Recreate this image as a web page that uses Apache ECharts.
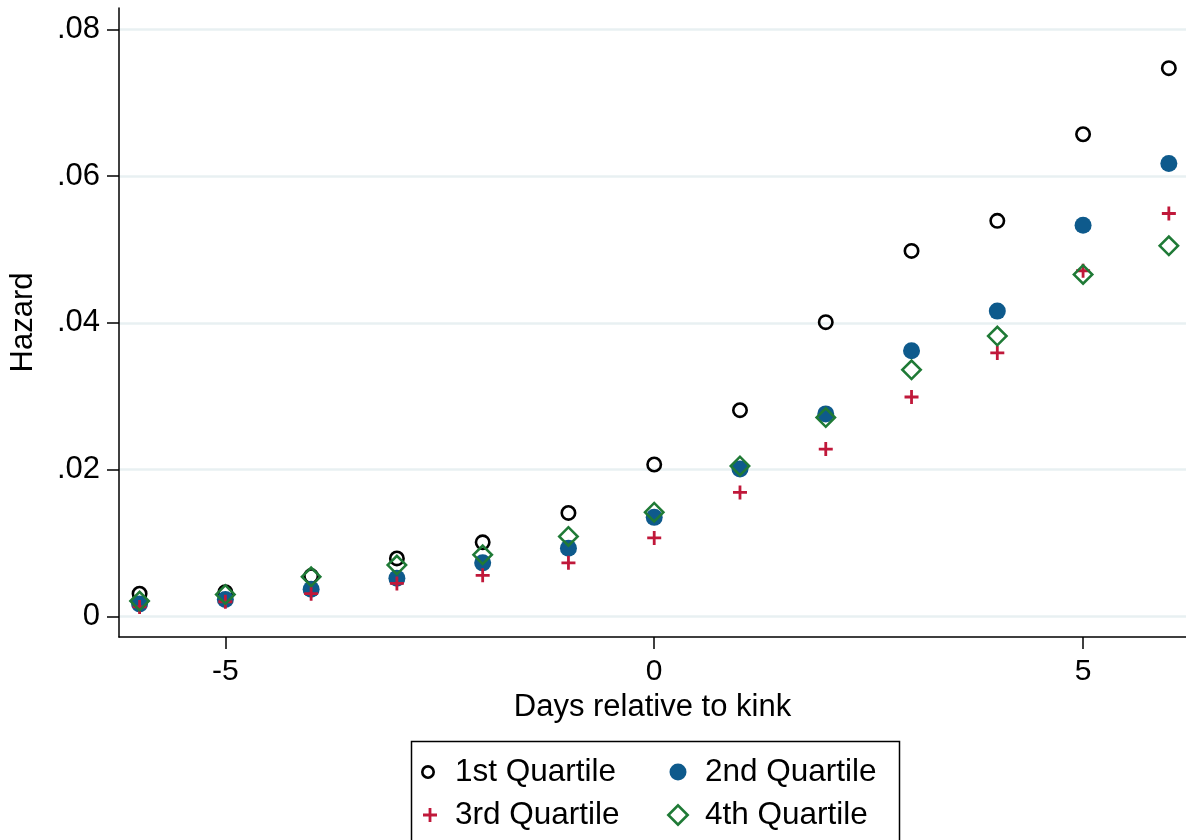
<!DOCTYPE html>
<html><head><meta charset="utf-8">
<script src="https://cdn.jsdelivr.net/npm/echarts@6/dist/echarts.min.js"></script>
<style>html,body{margin:0;padding:0;background:#fff}#c{width:1186px;height:840px}</style>
</head><body><div id="c"></div>
<script>
const days = [-6,-5,-4,-3,-2,-1,0,1,2,3,4,5,6];
const q1 = [0.0031,0.0033,0.0055,0.0079,0.0101,0.0141,0.0207,0.0281,0.0401,0.0498,0.0539,0.0657,0.0747];
const q2 = [0.0017,0.0023,0.0037,0.0052,0.0073,0.0093,0.0135,0.0201,0.0276,0.0362,0.0416,0.0533,0.0617];
const q3 = [0.0013,0.0020,0.0031,0.0045,0.0056,0.0073,0.0107,0.0169,0.0228,0.0299,0.0359,0.0471,0.0549];
const q4 = [0.0021,0.0030,0.0054,0.0070,0.0084,0.0109,0.0142,0.0205,0.0271,0.0336,0.0382,0.0466,0.0505];
const seriesNames = ['1st Quartile','2nd Quartile','3rd Quartile','4th Quartile'];
const xTicks = [-5,0,5];
const yTicks = [0,0.02,0.04,0.06,0.08];
const yTickLabels = ['0','.02','.04','.06','.08'];

const FONT = 'Liberation Sans, Arial, Helvetica, sans-serif';
const pair = arr => days.map((d,i)=>[d,arr[i]]);
const PLUS = 'path://M4,0h2v4h4v2h-4v4h-2v-4h-4v-2h4z';
const RING = 'path://M8,0A8,8 0 1,1 8,16A8,8 0 1,1 8,0Z M8,2.6A5.4,5.4 0 1,0 8,13.4A5.4,5.4 0 1,0 8,2.6Z';
const DIAM = 'path://M11,0L22,11L11,22L0,11Z M11,3.6L3.6,11L11,18.4L18.4,11Z';
const RING_L = 'path://M8,0A8,8 0 1,1 8,16A8,8 0 1,1 8,0Z M8,3.0A5,5 0 1,0 8,13A5,5 0 1,0 8,3.0Z';
const C_BLUE = '#0e5a8c', C_RED = '#c0183a', C_GREEN = '#1f7a36';

const legendTextStyle = pad => ({fontFamily:FONT, fontSize:31.5, color:'#000', lineHeight:30, padding:[0,0,0,pad]});
const oneLegend = (name, icon, color, size, left, top, pad) => ({
  data:[{name, icon, itemStyle:{color, opacity:1}}],
  orient:'vertical', left, top, itemWidth:size, itemHeight:size, padding:0,
  textStyle:legendTextStyle(pad)
});

const chart = echarts.init(document.getElementById('c'), null, {renderer:'canvas'});
chart.setOption({
  animation:false,
  backgroundColor:'#fff',
  grid:{left:118, right:0, top:8, bottom:203, containLabel:false},
  xAxis:{
    type:'value', min:-6.24, max:6.2,
    name:'Days relative to kink', nameLocation:'middle', nameGap:52,
    nameTextStyle:{fontFamily:FONT, fontSize:31, color:'#000'},
    axisLine:{show:true, onZero:false, lineStyle:{color:'#000', width:1.5}},
    axisTick:{show:true, inside:false, length:12, customValues:xTicks, lineStyle:{color:'#000', width:1.5}},
    axisLabel:{customValues:xTicks, margin:20, fontFamily:FONT, fontSize:30, color:'#000',
      formatter:v=>String(v)},
    splitLine:{show:false}
  },
  yAxis:{
    type:'value', min:-0.0028, max:0.0829,
    name:'Hazard', nameLocation:'middle', nameGap:80, nameRotate:90,
    nameTextStyle:{fontFamily:FONT, fontSize:31, color:'#000'},
    axisLine:{show:true, onZero:false, lineStyle:{color:'#000', width:1.5}},
    axisTick:{show:true, inside:false, length:12, customValues:yTicks, lineStyle:{color:'#000', width:1.5}},
    axisLabel:{customValues:yTicks, margin:19, fontFamily:FONT, fontSize:31, color:'#000',
      formatter:v=>{let b=0;for(let i=0;i<yTicks.length;i++){if(Math.abs(yTicks[i]-v)<Math.abs(yTicks[b]-v))b=i;}return yTickLabels[b];}},
    splitLine:{show:true, lineStyle:{color:'#e8f0f2', width:2.5}}
  },
  legend:[
    oneLegend(seriesNames[0], RING_L, '#000', 14, 421, 756, 15),
    oneLegend(seriesNames[2], PLUS, C_RED, 14, 423, 799, 13),
    oneLegend(seriesNames[1], 'circle', C_BLUE, 17, 669.5, 756, 13.5),
    oneLegend(seriesNames[3], DIAM, C_GREEN, 23, 666.5, 799, 10.5)
  ],
  graphic:[{type:'rect', left:409, top:739, shape:{width:488, height:130},
    style:{fill:'none', stroke:'#000', lineWidth:1.5}, silent:true}],
  series:[
    {name:seriesNames[0], type:'scatter', data:pair(q1), symbol:RING, symbolSize:16,
     itemStyle:{color:'#000', opacity:1}, z:2},
    {name:seriesNames[1], type:'scatter', data:pair(q2), symbol:'circle', symbolSize:17,
     itemStyle:{color:C_BLUE, opacity:1}, z:3},
    {name:seriesNames[2], type:'scatter', data:pair(q3), symbol:PLUS, symbolSize:14,
     itemStyle:{color:C_RED, opacity:1}, z:4},
    {name:seriesNames[3], type:'scatter', data:pair(q4), symbol:DIAM, symbolSize:22,
     itemStyle:{color:C_GREEN, opacity:1}, z:5}
  ]
});
</script></body></html>
